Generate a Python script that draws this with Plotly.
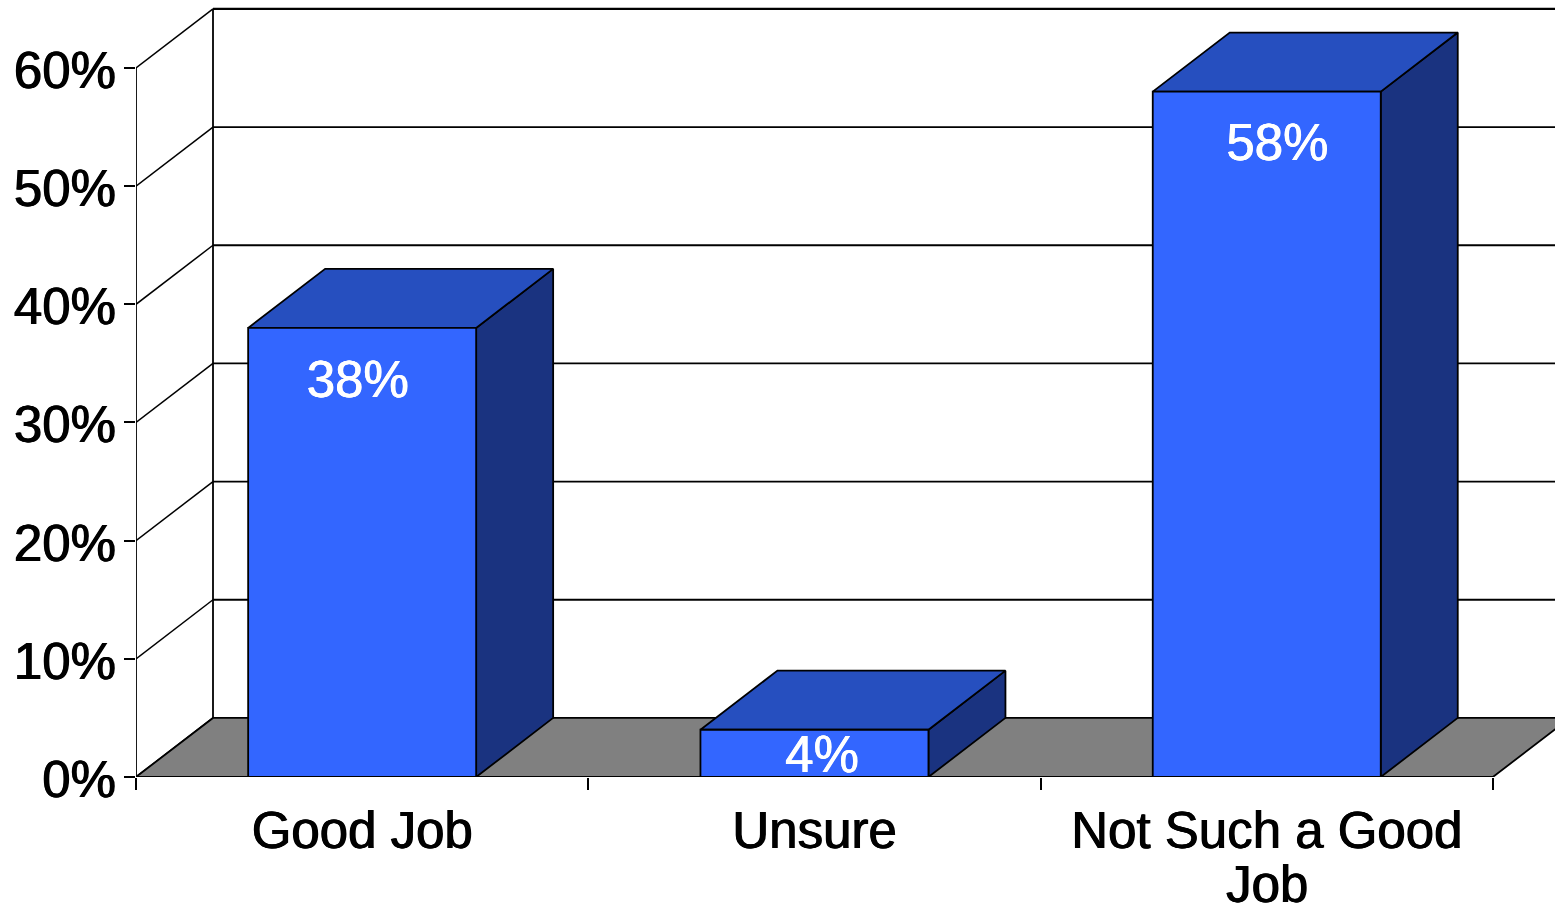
import plotly.graph_objects as go

categories = ["Good Job", "Unsure", "Not Such a Good"]
category_second_line = [None, None, "Job"]
values = [38, 4, 58]
value_labels = ["38%", "4%", "58%"]
y_ticks = [0, 10, 20, 30, 40, 50, 60]
y_tick_labels = ["0%", "10%", "20%", "30%", "40%", "50%", "60%"]

W, H = 1555, 905
LEFT, BOTTOM = 136, 128
CAT_PX = 452.3
UNIT_PX = 11.817
DX = 77 / CAT_PX      # depth, category units
DY = 5.0              # depth, percentage units
BAR_HALF = 114 / CAT_PX
LINE = dict(color="#000000", width=1.8)
FLOOR = "#808080"
FRONT, TOP, SIDE = "#3366FF", "#264FBF", "#1A3380"
FONT = "Liberation Sans"
DARK_WEIGHT = "0.7px 0 0 #000000, -0.4px 0 0 #000000"
LIGHT_WEIGHT = "0.6px 0 0 #FFFFFF, -0.3px 0 0 #FFFFFF"

fig = go.Figure()

def poly(xs, ys, fill):
    fig.add_trace(go.Scatter(x=xs, y=ys, mode="lines", fill="toself", fillcolor=fill,
                             line=LINE, cliponaxis=False, hoverinfo="skip", showlegend=False))

def seg(xs, ys, width=1.5):
    fig.add_trace(go.Scatter(x=xs, y=ys, mode="lines", line=dict(color="#000000", width=width),
                             cliponaxis=False, hoverinfo="skip", showlegend=False))

n = len(categories)
# Walls: side wall diagonals and back wall gridlines
for t in y_ticks:
    seg([0, DX], [t, t + DY], 1.5)
    if t > 0:
        seg([DX, n + DX], [t + DY, t + DY], 2.4 if t == y_ticks[-1] else 1.8)
seg([0, 0], [0, y_ticks[-1]], 1.8)
seg([DX, DX], [DY, y_ticks[-1] + DY], 1.8)

# Floor
poly([0, DX, n + DX, n, 0], [0, DY, DY, 0, 0], FLOOR)

# Bars
for i, v in enumerate(values):
    c = i + 0.5
    l, r = c - BAR_HALF, c + BAR_HALF
    poly([r, r + DX, r + DX, r, r], [0, DY, v + DY, v, 0], SIDE)
    poly([l, l + DX, r + DX, r, l], [v, v + DY, v + DY, v, v], TOP)
    poly([l, r, r, l, l], [0, 0, v, v, 0], FRONT)

seg([0, n], [0, 0], 2.2)

# Data labels
label_nudge_x = [-4.5 / CAT_PX, 7.5 / CAT_PX, 10.5 / CAT_PX]
label_y = [v - 4.75 if v > 10 else v - 2.5 for v in values]
label_x = [i + 0.5 + label_nudge_x[i] for i in range(n)]
fig.add_trace(go.Scatter(x=label_x, y=label_y, mode="text", text=value_labels,
                         textposition="middle center", cliponaxis=False, hoverinfo="skip",
                         textfont=dict(family=FONT, size=51, color="#FFFFFF", shadow=LIGHT_WEIGHT),
                         showlegend=False))

# Wrapped second line of a category label
annotations = [
    dict(x=i + 0.5, y=-107 / (H - BOTTOM), xref="x", yref="paper", text=t, showarrow=False,
         xanchor="center", yanchor="middle",
         font=dict(family=FONT, size=51, color="#000000", shadow=DARK_WEIGHT))
    for i, t in enumerate(category_second_line) if t
]

fig.update_layout(
    width=W, height=H, margin=dict(l=LEFT, r=0, t=0, b=BOTTOM, autoexpand=False),
    paper_bgcolor="#FFFFFF", plot_bgcolor="#FFFFFF", showlegend=False,
    font=dict(family=FONT, color="#000000"),
    annotations=annotations,
    xaxis=dict(range=[0, (W - LEFT) / CAT_PX], showgrid=False, zeroline=False, showline=False,
               automargin=False,
               tickmode="array", tickvals=[i + 0.5 for i in range(n)], ticktext=categories,
               ticks="", tickangle=0, ticklabelstandoff=19,
               tickfont=dict(family=FONT, size=51, color="#000000", shadow=DARK_WEIGHT),
               minor=dict(tickmode="array", tickvals=list(range(n + 1)), ticks="outside",
                          ticklen=12, tickwidth=1.8, tickcolor="#000000", showgrid=False)),
    yaxis=dict(range=[0, (H - BOTTOM) / UNIT_PX], showgrid=False, zeroline=False, showline=False,
               automargin=False,
               tickmode="array", tickvals=y_ticks, ticktext=y_tick_labels, ticks="outside",
               ticklen=11, tickwidth=1.8, tickcolor="#000000", ticklabelstandoff=-2, ticklabelshift=2,
               tickfont=dict(family=FONT, size=51, color="#000000", shadow=DARK_WEIGHT)),
)

fig.write_html("out.html", config=dict(displayModeBar=False),
               post_script="document.body.style.margin='0';document.body.style.overflow='hidden';")
